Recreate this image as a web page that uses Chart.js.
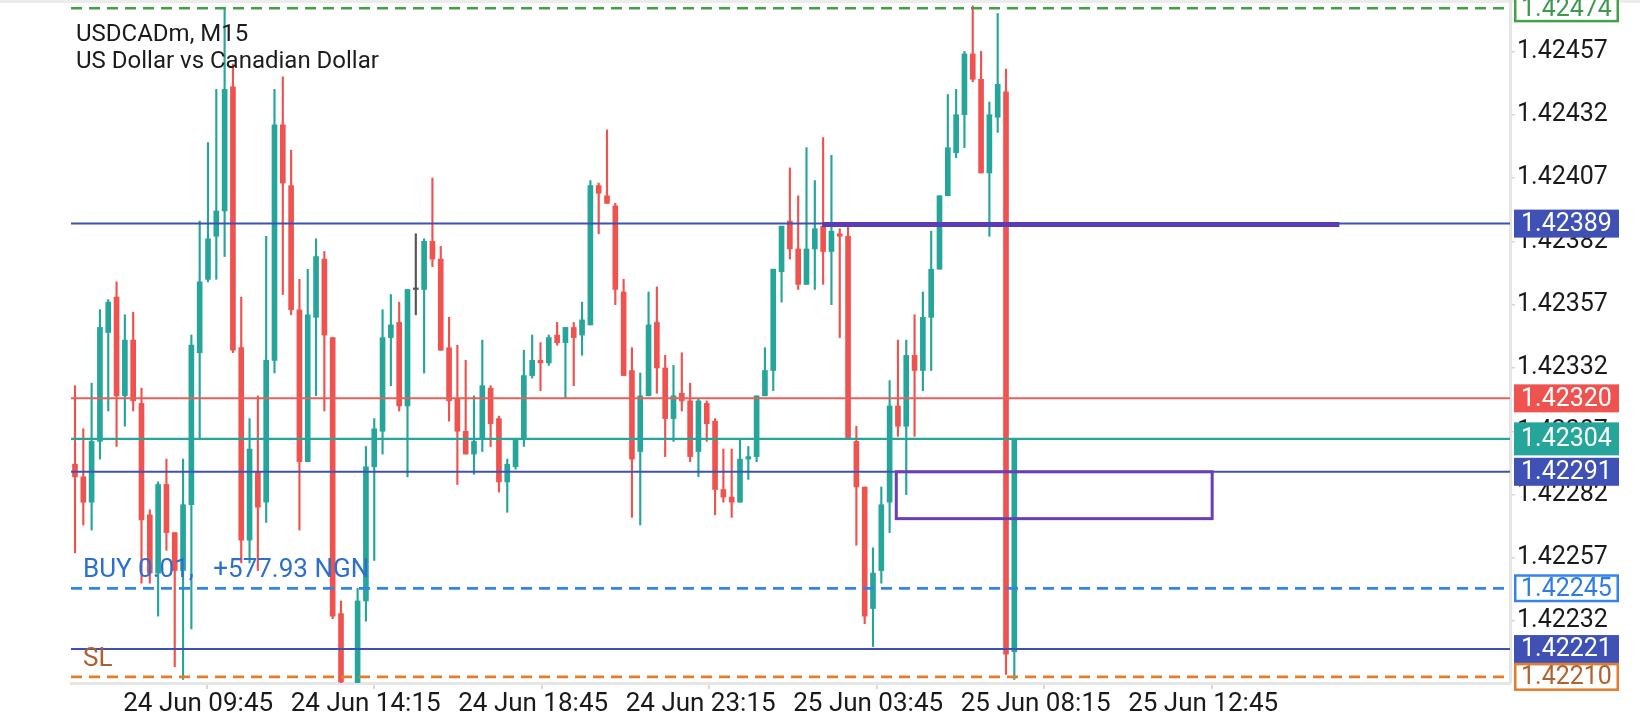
<!DOCTYPE html>
<html>
<head>
<meta charset="utf-8">
<script src="https://cdn.jsdelivr.net/npm/chart.js@4.4.1/dist/chart.umd.min.js"></script>
<style>
  html, body { margin: 0; padding: 0; background: #fff; }
  #wrap { width: 1640px; height: 720px; position: relative; }
</style>
</head>
<body>
<div id="wrap"><canvas id="chart"></canvas></div>
<script>
// USDCADm M15 candles
const opens = [1.42294,1.42289,1.42279,1.42303,1.42346,1.42360,1.42321,1.42343,1.42318,1.42274,
  1.42251,1.42286,1.42267,1.42252,1.42278,1.42338,1.42367,1.42384,1.42394,1.42443,
  1.42340,1.42264,1.42291,1.42279,1.42335,1.42428,1.42404,1.42355,1.42295,1.42352,
  1.42375,1.42344,1.42235,1.42204,1.42206,1.42240,1.42293,1.42307,1.42344,1.42350,
  1.42317,1.42363,1.42363,1.42382,1.42375,1.42340,1.42320,1.42307,1.42298,1.42304,
  1.42324,1.42312,1.42287,1.42293,1.42304,1.42329,1.42335,1.42334,1.42345,1.42342,
  1.42348,1.42345,1.42349,1.42404,1.42400,1.42396,1.42362,1.42331,1.42299,1.42321,
  1.42350,1.42332,1.42312,1.42322,1.42319,1.42299,1.42318,1.42311,1.42284,1.42281,
  1.42279,1.42296,1.42297,1.42321,1.42331,1.42370,1.42390,1.42379,1.42365,1.42379,
  1.42388,1.42378,1.42385,1.42384,1.42303,1.42285,1.42237,1.42252,1.42279,1.42317,
  1.42309,1.42337,1.42331,1.42352,1.42371,1.42400,1.42417,1.42432,1.42456,1.42446,
  1.42409,1.42431,1.42441,1.42220];
const highs = [1.42325,1.42308,1.42326,1.42355,1.42359,1.42366,1.42353,1.42354,1.42324,1.42276,
  1.42287,1.42296,1.42267,1.42296,1.42345,1.42390,1.42421,1.42442,1.42474,1.42452,
  1.42360,1.42312,1.42321,1.42384,1.42442,1.42447,1.42418,1.42367,1.42371,1.42383,
  1.42378,1.42344,1.42240,1.42207,1.42245,1.42301,1.42312,1.42355,1.42361,1.42358,
  1.42363,1.42385,1.42383,1.42407,1.42380,1.42352,1.42341,1.42335,1.42321,1.42343,
  1.42325,1.42313,1.42296,1.42304,1.42339,1.42345,1.42342,1.42345,1.42350,1.42348,
  1.42350,1.42358,1.42406,1.42405,1.42426,1.42397,1.42367,1.42340,1.42330,1.42362,
  1.42364,1.42337,1.42333,1.42338,1.42326,1.42320,1.42319,1.42312,1.42300,1.42300,
  1.42304,1.42301,1.42321,1.42340,1.42371,1.42388,1.42411,1.42400,1.42419,1.42406,
  1.42423,1.42416,1.42387,1.42388,1.42309,1.42285,1.42261,1.42285,1.42327,1.42343,
  1.42343,1.42353,1.42362,1.42386,1.42400,1.42440,1.42442,1.42457,1.42475,1.42457,
  1.42437,1.42472,1.42450,1.42304];
const lows = [1.42259,1.42270,1.42268,1.42296,1.42315,1.42301,1.42309,1.42315,1.42247,1.42247,
  1.42234,1.42260,1.42214,1.42209,1.42229,1.42304,1.42366,1.42367,1.42376,1.42338,
  1.42255,1.42255,1.42252,1.42271,1.42330,1.42361,1.42353,1.42268,1.42295,1.42321,
  1.42315,1.42233,1.42204,1.42196,1.42204,1.42232,1.42256,1.42298,1.42325,1.42315,
  1.42289,1.42353,1.42330,1.42372,1.42339,1.42311,1.42286,1.42298,1.42290,1.42299,
  1.42301,1.42283,1.42275,1.42292,1.42301,1.42328,1.42323,1.42333,1.42341,1.42320,
  1.42325,1.42337,1.42349,1.42385,1.42397,1.42357,1.42329,1.42273,1.42270,1.42321,
  1.42322,1.42297,1.42303,1.42315,1.42295,1.42289,1.42303,1.42274,1.42279,1.42273,
  1.42279,1.42288,1.42295,1.42321,1.42323,1.42358,1.42375,1.42363,1.42365,1.42363,
  1.42365,1.42357,1.42344,1.42304,1.42262,1.42231,1.42222,1.42247,1.42267,1.42305,
  1.42282,1.42305,1.42323,1.42331,1.42371,1.42400,1.42415,1.42419,1.42445,1.42409,
  1.42384,1.42425,1.42211,1.42209];
const closes = [1.42289,1.42279,1.42303,1.42348,1.42358,1.42321,1.42343,1.42319,1.42272,1.42251,
  1.42286,1.42267,1.42252,1.42278,1.42341,1.42366,1.42383,1.42394,1.42442,1.42339,
  1.42264,1.42300,1.42277,1.42335,1.42428,1.42405,1.42355,1.42295,1.42353,1.42376,
  1.42345,1.42234,1.42208,1.42200,1.42240,1.42293,1.42308,1.42344,1.42349,1.42317,
  1.42363,1.42363,1.42382,1.42375,1.42339,1.42319,1.42307,1.42298,1.42303,1.42325,
  1.42310,1.42287,1.42294,1.42304,1.42329,1.42335,1.42334,1.42344,1.42342,1.42348,
  1.42344,1.42351,1.42404,1.42401,1.42397,1.42363,1.42329,1.42296,1.42321,1.42349,
  1.42332,1.42312,1.42321,1.42319,1.42297,1.42319,1.42310,1.42284,1.42281,1.42279,
  1.42296,1.42297,1.42321,1.42331,1.42371,1.42388,1.42379,1.42365,1.42379,1.42387,
  1.42378,1.42386,1.42384,1.42304,1.42285,1.42234,1.42251,1.42278,1.42317,1.42309,
  1.42337,1.42331,1.42352,1.42371,1.42400,1.42419,1.42432,1.42456,1.42446,1.42409,
  1.42432,1.42444,1.42219,1.42304];

// time axis labels and where they sit (in bar units)
const timeLabels = ['24 Jun 09:45', '24 Jun 14:15', '24 Jun 18:45', '24 Jun 23:15',
  '25 Jun 03:45', '25 Jun 08:15', '25 Jun 12:45'];
const timeTicks = [5.8, 25.95, 46.1, 66.25, 86.4, 106.55, 126.7];

// price axis ticks
const priceTicks = [1.42457, 1.42432, 1.42407, 1.42382, 1.42357, 1.42332, 1.42307, 1.42282, 1.42257, 1.42232];

// horizontal levels: TP, lines, bid, open price, SL
const levelPrices = [1.42474, 1.42389, 1.42320, 1.42304, 1.42291, 1.42245, 1.42221, 1.42210];

// drawn objects (bar units / prices)
const trendFrom = 89.9, trendTo = 152.1, trendPrice = 1.42389;
const zoneFrom = 98.8, zoneTo = 136.8, zoneTop = 1.42291, zoneBottom = 1.422725;

const UP = '#26a69a', DOWN = '#ef5350', DOJI = '#555555';

const levelStyles = [
  { color: '#43a047', text: '#3d9a4d', dash: [11, 7], width: 2.5, outline: true },
  { color: '#3f51b5', width: 2 },
  { color: '#e5615d', fill: '#ef5350', width: 2 },
  { color: '#26a69a', width: 2.2, h: 33 },
  { color: '#3f51b5', width: 2 },
  { color: '#3384ea', text: '#2f7be6', dash: [11, 7], width: 2.8, outline: true },
  { color: '#3f51b5', width: 2 },
  { color: '#e37d2b', text: '#b2622c', dash: [11, 7], width: 2.8, outline: true }
];

const candleColors = opens.map((o, i) => closes[i] > o ? UP : (closes[i] < o ? DOWN : DOJI));
const wickData = opens.map((o, i) => ({ x: i, y: [lows[i], highs[i]] }));
const bodyData = opens.map((o, i) => ({ x: i, y: [Math.min(o, closes[i]), Math.max(o, closes[i])] }));

const overlay = {
  id: 'overlay',
  beforeDraw(chart) {
    const { ctx, width } = chart;
    ctx.save();
    ctx.fillStyle = '#fff';
    ctx.fillRect(0, 0, width, chart.height);
    ctx.fillStyle = '#ececec';
    ctx.fillRect(0, 0, width, 3);
    ctx.restore();
  },
  afterDatasetsDraw(chart) {
    const { ctx, chartArea: a, scales: { x, y } } = chart;
    ctx.save();
    ctx.beginPath();
    ctx.rect(a.left, a.top, a.right - a.left, a.bottom - a.top);
    ctx.clip();

    levelPrices.forEach((p, k) => {
      const st = levelStyles[k];
      const py = y.getPixelForValue(p);
      ctx.strokeStyle = st.color;
      ctx.lineWidth = st.width;
      ctx.setLineDash(st.dash || []);
      ctx.beginPath();
      ctx.moveTo(a.left, py);
      ctx.lineTo(a.right, py);
      ctx.stroke();
    });
    ctx.setLineDash([]);

    // purple trend line
    ctx.strokeStyle = '#5b3cb6';
    ctx.lineWidth = 5;
    ctx.beginPath();
    ctx.moveTo(x.getPixelForValue(trendFrom), y.getPixelForValue(trendPrice) + 1);
    ctx.lineTo(x.getPixelForValue(trendTo), y.getPixelForValue(trendPrice) + 1);
    ctx.stroke();

    // purple rectangle
    const rx0 = x.getPixelForValue(zoneFrom), rx1 = x.getPixelForValue(zoneTo);
    const ry0 = y.getPixelForValue(zoneTop), ry1 = y.getPixelForValue(zoneBottom);
    ctx.strokeStyle = '#6a3fb5';
    ctx.lineWidth = 3;
    ctx.strokeRect(rx0, ry0, rx1 - rx0, ry1 - ry0);

    // trade texts
    ctx.textBaseline = 'middle';
    ctx.font = '26px Roboto';
    ctx.fillStyle = '#2d6fcf';
    ctx.fillText('BUY 0.01,   +577.93 NGN', 83, 570);
    ctx.fillStyle = '#b0602e';
    ctx.fillText('SL', 83, 659);
    ctx.restore();
  },
  afterDraw(chart) {
    const { ctx, chartArea: a, scales: { y } } = chart;
    ctx.save();
    // symbol caption
    ctx.font = '24px Roboto';
    ctx.textBaseline = 'middle';
    ctx.fillStyle = '#1c1c1c';
    ctx.fillText('USDCADm, M15', 76, 35);
    ctx.fillText('US Dollar vs Canadian Dollar', 76, 62);

    // price tags on the axis
    ctx.font = '25px Roboto';
    const bx = a.right + 4, bw = 105;
    levelPrices.forEach((p, k) => {
      const st = levelStyles[k];
      const py = y.getPixelForValue(p);
      const h = st.h || 28;
      if (st.outline) {
        ctx.fillStyle = '#fff';
        ctx.fillRect(bx, py - h / 2, bw, h);
        ctx.strokeStyle = st.color;
        ctx.lineWidth = 2.5;
        ctx.strokeRect(bx + 1.25, py - h / 2 + 1.25, bw - 2.5, h - 2.5);
        ctx.fillStyle = st.text;
      } else {
        ctx.fillStyle = st.fill || st.color;
        ctx.fillRect(bx, py - h / 2, bw, h);
        ctx.fillStyle = '#fff';
      }
      ctx.fillText(p.toFixed(5), bx + 7, py + 1);
    });
    ctx.restore();
  }
};

new Chart(document.getElementById('chart'), {
  type: 'bar',
  data: {
    datasets: [
      { data: wickData, backgroundColor: candleColors, barThickness: 1.5, grouped: false, order: 2, borderWidth: 0 },
      { data: bodyData, backgroundColor: candleColors, barThickness: 5, grouped: false, order: 1, borderWidth: 0, minBarLength: 1.5 }
    ]
  },
  options: {
    responsive: true,
    maintainAspectRatio: false,
    devicePixelRatio: 1,
    animation: false,
    events: [],
    layout: { padding: { left: 71, top: 0, right: 0, bottom: 0 } },
    plugins: { legend: { display: false }, tooltip: { enabled: false } },
    scales: {
      x: {
        type: 'linear',
        min: -0.48,
        max: 172.63,
        offset: false,
        afterBuildTicks: s => { s.ticks = timeTicks.map(v => ({ value: v })); },
        afterFit: s => { s.height = 37; s.paddingLeft = 0; s.paddingRight = 0; },
        grid: { drawOnChartArea: false, drawTicks: true, tickLength: 6, color: '#dadada', lineWidth: 2 },
        border: { display: true, color: '#e6e6e6', width: 3 },
        ticks: {
          autoSkip: false, maxRotation: 0, minRotation: 0, align: 'start', padding: 0,
          color: '#1a1a1a', font: { family: 'Roboto', size: 26 },
          callback: (v, i) => timeLabels[i]
        }
      },
      y: {
        type: 'linear',
        position: 'right',
        min: 1.422076,
        max: 1.424773,
        afterBuildTicks: s => { s.ticks = priceTicks.map(v => ({ value: v })); },
        afterFit: s => { s.width = 130; s.paddingTop = 0; s.paddingBottom = 0; },
        grid: { drawOnChartArea: false, drawTicks: true, tickLength: 5, color: '#d6d6d6', lineWidth: 1.5 },
        border: { display: true, color: '#e6e6e6', width: 3 },
        ticks: {
          padding: 2, color: '#1a1a1a', font: { family: 'Roboto', size: 25 },
          callback: v => v.toFixed(5)
        }
      }
    }
  },
  plugins: [overlay]
});
</script>
</body>
</html>
